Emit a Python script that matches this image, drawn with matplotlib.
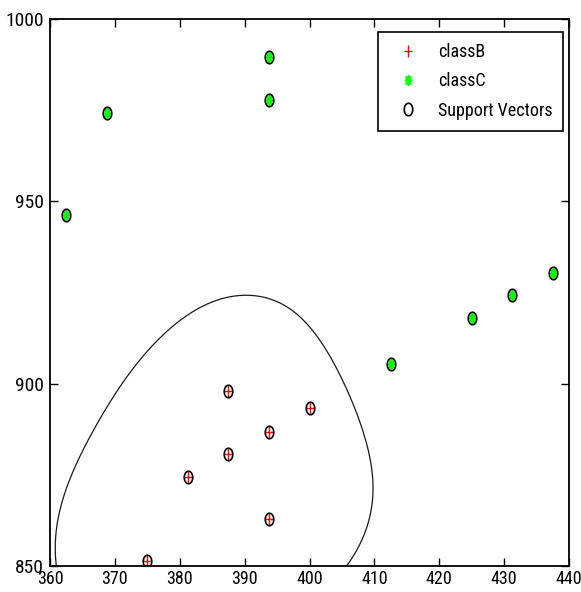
import numpy as np
import matplotlib
matplotlib.use('Agg')
import matplotlib.pyplot as plt
from matplotlib.path import Path

# values
classB_x = [387.5, 400.0, 393.75, 387.5, 381.25, 393.75, 375.0]
classB_y = [898.0, 893.2, 886.7, 880.6, 874.5, 863.0, 851.4]
classC_x = [393.75, 393.75, 368.75, 362.5, 412.5, 425.0, 431.25, 437.5]
classC_y = [989.5, 977.8, 974.1, 946.3, 905.5, 918.1, 924.3, 930.4]
x_ticks = [360, 370, 380, 390, 400, 410, 420, 430, 440]
y_ticks = [850, 900, 950, 1000]
legend_labels = ['classB', 'classC', 'Support Vectors']

# svmtrain style: autoscale, rbf kernel, least squares method
rbf_sigma = 0.5
box_c = 1.0


def rbf(u, v, sigma):
    d2 = ((u[:, None, :] - v[None, :, :]) ** 2).sum(-1)
    return np.exp(-d2 / (2 * sigma ** 2))


def lssvm(K, y, C):
    n = len(y)
    A = np.zeros((n + 1, n + 1))
    A[0, 1:] = y
    A[1:, 0] = y
    A[1:, 1:] = np.outer(y, y) * K + np.eye(n) / C
    rhs = np.concatenate([[0.0], np.ones(n)])
    sol = np.linalg.solve(A, rhs)
    return sol[1:], sol[0]


X = np.column_stack([classB_x + classC_x, classB_y + classC_y])
lab = np.array([1.0] * len(classB_x) + [-1.0] * len(classC_x))
shift = X.mean(0)
scale = X.std(0, ddof=1)
Xs = (X - shift) / scale
alpha, bias = lssvm(rbf(Xs, Xs, rbf_sigma), lab, box_c)

gx, gy = np.meshgrid(np.linspace(360, 440, 100), np.linspace(850, 1000, 100))
grid = (np.column_stack([gx.ravel(), gy.ravel()]) - shift) / scale
f = (rbf(grid, Xs, rbf_sigma) @ (alpha * lab) + bias).reshape(gx.shape)

# markers squeezed sideways like the source image
squeeze = 0.68
th = np.linspace(0, 2 * np.pi, 64)
oval = Path(np.column_stack([squeeze * np.cos(th), np.sin(th)]), closed=True)
plus = Path([(-squeeze, 0), (squeeze, 0), (0, -1), (0, 1)],
            [Path.MOVETO, Path.LINETO, Path.MOVETO, Path.LINETO])
d = 0.7071
star = Path([(-squeeze, 0), (squeeze, 0), (0, -1), (0, 1),
             (-squeeze * d, -d), (squeeze * d, d), (-squeeze * d, d), (squeeze * d, -d)],
            [Path.MOVETO, Path.LINETO] * 4)

plt.rcParams['font.family'] = ['Roboto Condensed', 'Liberation Sans', 'DejaVu Sans']

fig = plt.figure(figsize=(5.81, 5.92), dpi=100)
ax = fig.add_axes([50 / 581, 26 / 592, 519 / 581, 547 / 592])

hB, = ax.plot(classB_x, classB_y, linestyle='none', marker=plus, markersize=8,
              markeredgecolor='red', markerfacecolor='none', markeredgewidth=1.0)
hC, = ax.plot(classC_x, classC_y, linestyle='none', marker=star, markersize=8,
              markeredgecolor=(0, 1, 0), markerfacecolor='none', markeredgewidth=1.6)
hS, = ax.plot(X[:, 0], X[:, 1], linestyle='none', marker=oval,
              markersize=9, markeredgecolor='black', markerfacecolor='none',
              markeredgewidth=1.2)
ax.contour(gx, gy, f, levels=[0], colors='#1a1a1a', linewidths=0.9)

ax.set_xlim(360, 440)
ax.set_ylim(850, 1000)
ax.set_xticks(x_ticks)
ax.set_yticks(y_ticks)
ax.tick_params(direction='in', top=True, right=True, length=5.5, width=1.0)
ax.tick_params(axis='x', pad=3, labelsize=13)
ax.tick_params(axis='y', pad=4.5, labelsize=14)
for s in ax.spines.values():
    s.set_linewidth(1.3)

leg = ax.legend([hB, hC, hS], legend_labels, loc='upper right',
                bbox_to_anchor=(0.989, 0.976), borderaxespad=0, fancybox=False,
                edgecolor='black', framealpha=1, fontsize=13, numpoints=1,
                handlelength=2.16, handletextpad=0.58, labelspacing=0.63,
                borderpad=0.6)
leg.get_frame().set_linewidth(1.2)

fig.savefig('out.png', dpi=100)
